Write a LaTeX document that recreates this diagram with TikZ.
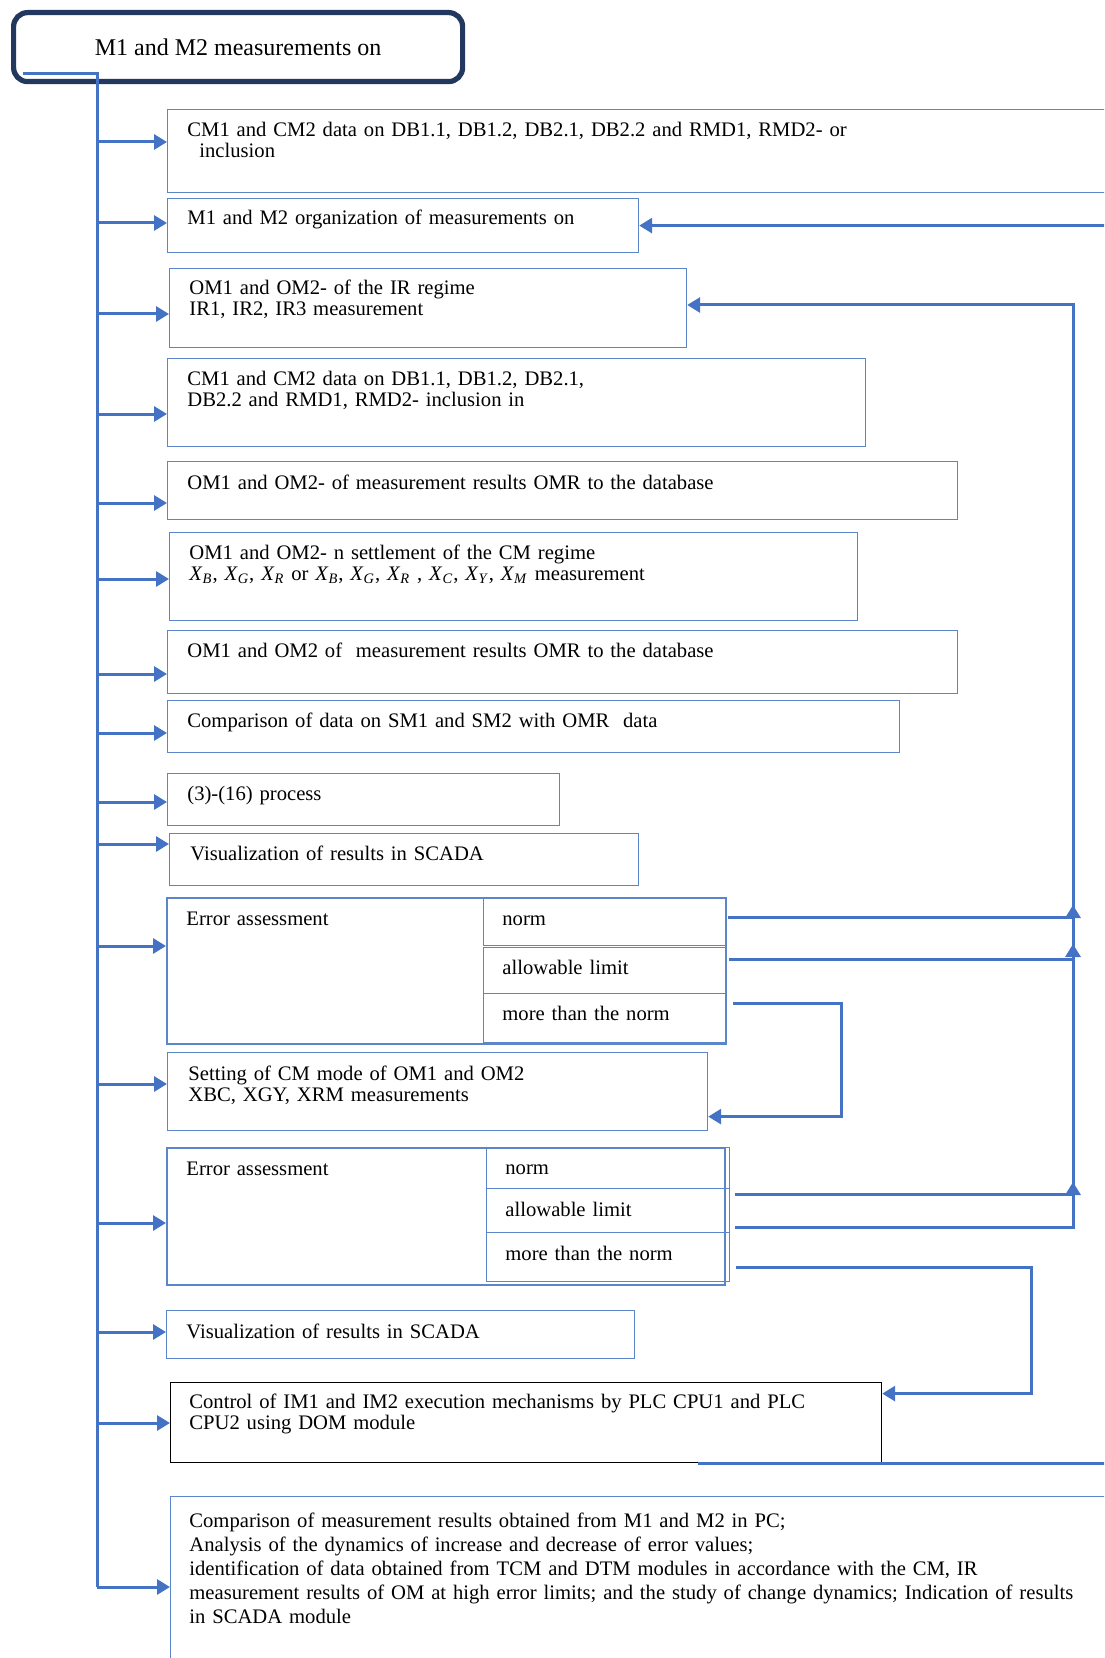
\documentclass[tikz,border=0pt]{standalone}
\usepackage{fontspec}
\setmainfont{Liberation Serif}
\usetikzlibrary{arrows.meta}
\definecolor{lineblue}{RGB}{68,114,196}
\definecolor{boxblue}{RGB}{91,134,201}
\definecolor{navyline}{RGB}{35,56,95}
\newcommand{\Xsub}[1]{\textit{X}\textsubscript{\textit{#1}}}
\tikzset{
  bx/.style={draw=boxblue, line width=0.6pt, anchor=north west, inner sep=0pt},
  eabx/.style={bx, line width=1.1pt},
  txt/.style={anchor=base west, inner sep=0pt, text width=455pt, align=left, font=\fontsize{10.32}{10.5}\selectfont},
  conn/.style={draw=lineblue, line width=1.5pt},
  arr/.style={conn, -{Triangle[length=6.5pt,width=7.5pt]}},
}
\begin{document}
\begin{tikzpicture}[x=0.5pt, y=-0.5pt]
  \useasboundingbox (0,0) rectangle (1104,1658);
  \clip (0,0) rectangle (1104,1658);

  % title box
  \node[draw=navyline, line width=2.6pt, rounded corners=7pt, minimum width=224.5pt, minimum height=34.5pt,
        inner sep=0pt, anchor=north west, font=\fontsize{12}{14}\selectfont] (top) at (11,10) {M1 and M2 measurements on};

  % boxes
  \node[bx, minimum width=476.5pt, minimum height=41.5pt] (b1) at (167,109) {};
  \node[bx, minimum width=235.5pt, minimum height=27pt] (b2) at (167,198) {};
  \node[bx, minimum width=258.5pt, minimum height=39.5pt] (b3) at (169,268) {};
  \node[bx, minimum width=349pt, minimum height=44pt] (b4) at (167,358) {};
  \node[bx, minimum width=395pt, minimum height=29pt] (b5) at (167,461) {};
  \node[bx, minimum width=344pt, minimum height=44pt] (b6) at (169,532) {};
  \node[bx, minimum width=395pt, minimum height=31.5pt] (b7) at (167,630) {};
  \node[bx, minimum width=366pt, minimum height=26pt] (b8) at (167,700) {};
  \node[bx, minimum width=196pt, minimum height=26pt] (b9) at (167,773) {};
  \node[bx, minimum width=234.5pt, minimum height=26pt] (b10) at (169,833) {};

  \node[eabx, minimum width=279.5pt, minimum height=73pt] (ea1) at (166,897) {};
  \node[bx, minimum width=121.25pt, minimum height=24pt] (no1) at (482.5,897) {};
  \node[bx, minimum width=121.25pt, minimum height=23pt] (al1) at (482.5,947) {};
  \node[bx, minimum width=121.25pt, minimum height=24.5pt] (mo1) at (482.5,993) {};

  \node[bx, minimum width=270pt, minimum height=39pt] (st) at (167,1052) {};

  \node[eabx, minimum width=279pt, minimum height=68.5pt] (ea2) at (166,1147) {};
  \node[bx, minimum width=121.5pt, minimum height=20.5pt] (no2) at (486,1147) {};
  \node[bx, minimum width=121.5pt, minimum height=22pt] (al2) at (486,1188) {};
  \node[bx, minimum width=121.5pt, minimum height=24.5pt] (mo2) at (486,1232) {};

  \node[bx, minimum width=234pt, minimum height=24pt] (b14) at (166,1310) {};
  \node[bx, draw=black, minimum width=355.5pt, minimum height=40pt] (ctl) at (170,1382) {};
  \node[bx, minimum width=475pt, minimum height=92pt] (bot) at (170,1496) {};

  % texts
  \node[txt] (t1) at (187,137) {CM1 and CM2 data on DB1.1, DB1.2, DB2.1, DB2.2 and RMD1, RMD2- or\\\hspace*{6pt}inclusion};
  \node[txt] (t2) at (187,225) {M1 and M2 organization of measurements on};
  \node[txt] (t3) at (189,295) {OM1 and OM2- of the IR regime\\IR1, IR2, IR3 measurement};
  \node[txt] (t4) at (187,386) {CM1 and CM2 data on DB1.1, DB1.2, DB2.1,\\DB2.2 and RMD1, RMD2- inclusion in};
  \node[txt] (t5) at (187,489) {OM1 and OM2- of measurement results OMR to the database};
  \node[txt] (t6) at (189,559) {OM1 and OM2- n settlement of the CM regime\\\Xsub{B}, \Xsub{G}, \Xsub{R} or \Xsub{B}, \Xsub{G}, \Xsub{R} , \Xsub{C}, \Xsub{Y}, \Xsub{M} measurement};
  \node[txt] (t7) at (187,657) {OM1 and OM2 of~ measurement results OMR to the database};
  \node[txt] (t8) at (187,727) {Comparison of data on SM1 and SM2 with OMR~ data};
  \node[txt] (t9) at (187,800) {(3)-(16) process};
  \node[txt] (t10) at (190,860) {Visualization of results in SCADA};

  \node[txt] (t11) at (186,925) {Error assessment};
  \node[txt] (t11a) at (502,925) {norm};
  \node[txt] (t11b) at (502,974) {allowable limit};
  \node[txt] (t11c) at (502,1020) {more than the norm};

  \node[txt] (t12) at (188,1080) {Setting of CM mode of OM1 and OM2\\XBC, XGY, XRM measurements};

  \node[txt] (t13) at (186,1175) {Error assessment};
  \node[txt] (t13a) at (505,1174) {norm};
  \node[txt] (t13b) at (505,1216) {allowable limit};
  \node[txt] (t13c) at (505,1260) {more than the norm};

  \node[txt] (t14) at (186,1338) {Visualization of results in SCADA};
  \node[txt] (t15) at (189,1408) {Control of IM1 and IM2 execution mechanisms by PLC CPU1 and PLC\\CPU2 using DOM module};
  \node[txt, font=\fontsize{10.32}{12}\selectfont] (t16) at (189,1527) {Comparison of measurement results obtained from M1 and M2 in PC;\\
    Analysis of the dynamics of increase and decrease of error values;\\
    identification of data obtained from TCM and DTM modules in accordance with the CM, IR\\
    measurement results of OM at high error limits; and the study of change dynamics; Indication of results\\
    in SCADA module};

  % left trunk
  \coordinate (lt0) at (23,74);
  \coordinate (ltr) at (97,74);
  \draw[conn] (lt0) -- (ltr) -- (ltr |- 0,1587);
  \foreach \n/\y in {b1/142, b2/223, b3/314, b4/414, b5/503, b6/579, b7/674, b8/733, b9/802, b10/844,
                     ea1/946, st/1084, ea2/1223, b14/1332, ctl/1423, bot/1587}
    \draw[arr] (ltr |- 0,\y) -- (\n.west |- 0,\y);

  % right side
  \coordinate (redge) at (1115,0);
  \coordinate (rtr) at (1073,305);
  \draw[arr] (b2.east -| redge) -- (b2.east);
  \draw[arr] ([xshift=1pt,yshift=2pt]no1.east) -| (rtr |- 0,905);
  \draw[arr] ([xshift=1.5pt,yshift=5.5pt]al1.east) -| (rtr |- 0,944);
  \draw[arr] ([xshift=2.5pt,yshift=-13.25pt]no2.east) -| (rtr |- 0,1182);
  \draw[arr] ([xshift=2.5pt,yshift=-8.5pt]al2.east) -| (rtr) -- (b3.east |- rtr);
  \draw[arr] ([xshift=3.5pt,yshift=7.25pt]mo1.east) -- ++(108,0) |- ([yshift=-12.5pt]st.east);
  \draw[arr] ([xshift=3pt,yshift=-5.25pt]mo2.east) -- ++(295,0) |- ([yshift=14.5pt]ctl.east);
  \draw[conn] ([xshift=85.75pt]ctl.south) -- (ctl.south -| redge);
\end{tikzpicture}
\end{document}
